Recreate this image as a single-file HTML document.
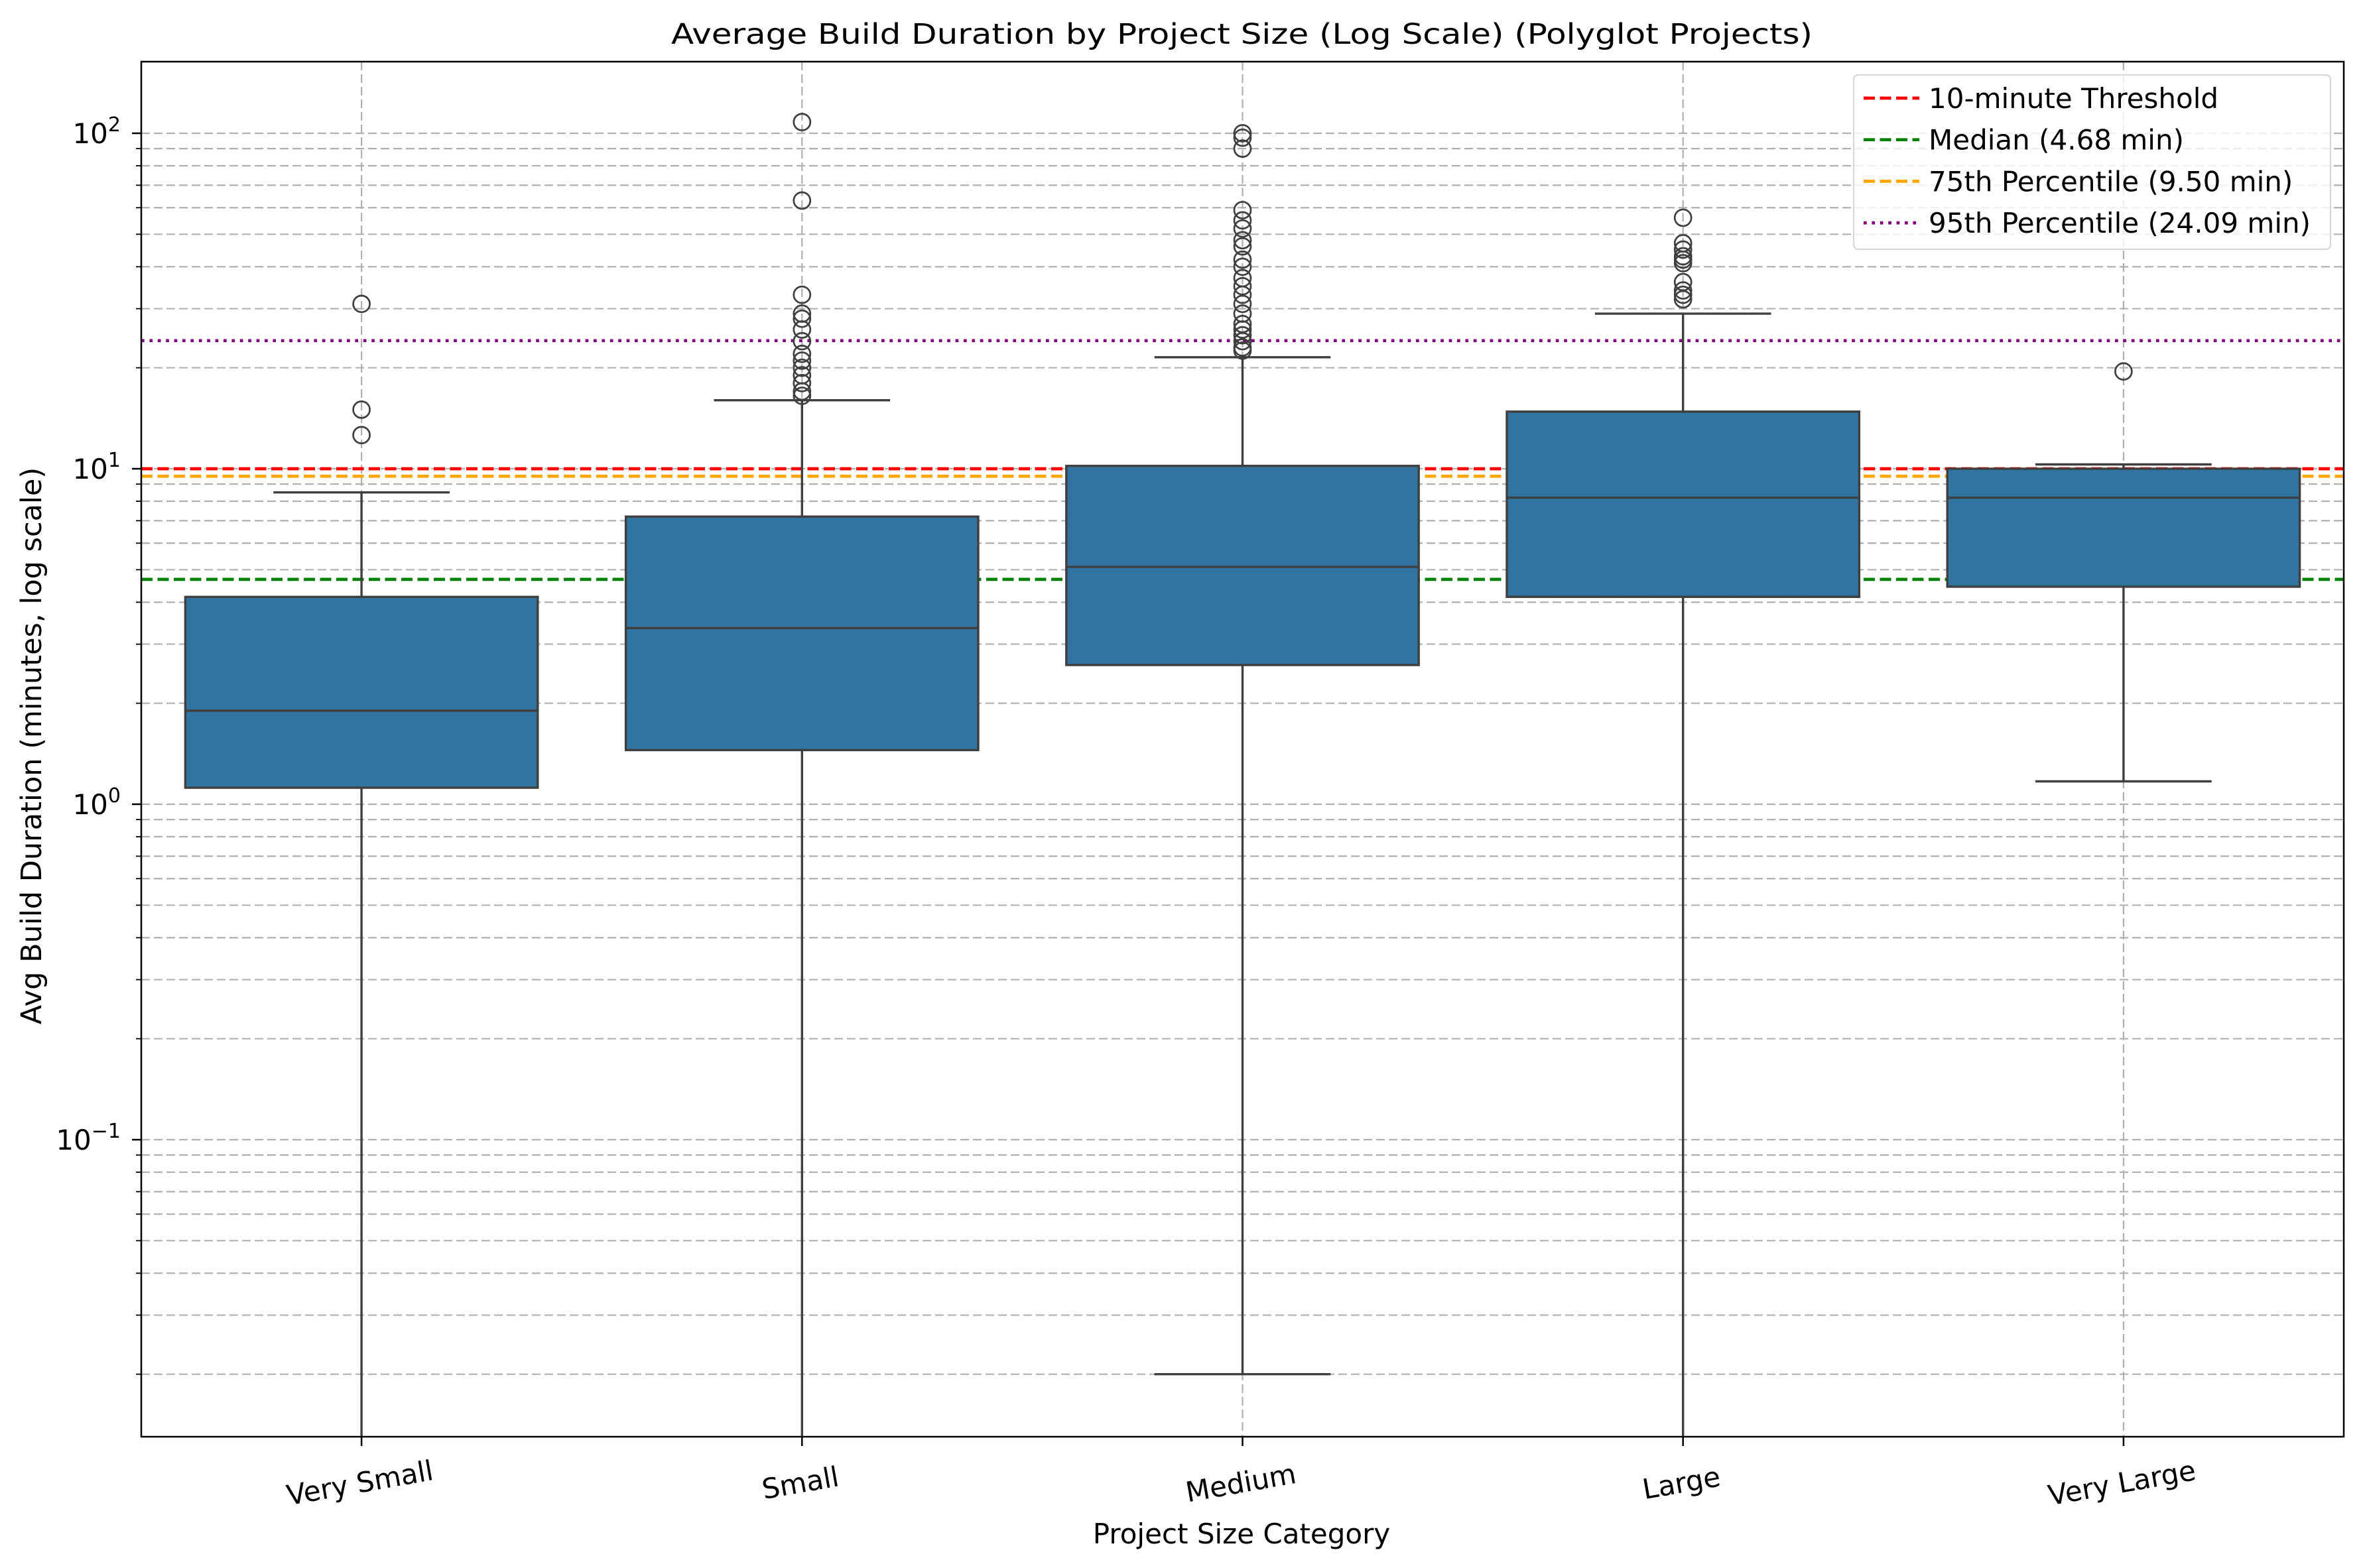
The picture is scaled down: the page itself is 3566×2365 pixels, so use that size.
<!DOCTYPE html>
<html><head><meta charset="utf-8"><style>
html,body{margin:0;padding:0;background:#fff}
svg{display:block;font-family:"DejaVu Sans","Liberation Sans",sans-serif}
</style></head><body>
<svg id="chart" width="3566" height="2365" viewBox="0 0 3566 2365" xmlns="http://www.w3.org/2000/svg">
<rect width="3566" height="2365" fill="#fff"/>
<g id="grid"></g>
<g id="refs"></g>
<g id="boxes"></g>
<rect x="213" y="93" width="3321" height="2074" fill="none" stroke="#000" stroke-width="2.5"/>
<g id="axes"></g>
<text x="1012" y="66" font-size="43" textLength="1721" lengthAdjust="spacingAndGlyphs">Average Build Duration by Project Size (Log Scale) (Polyglot Projects)</text>
<text x="1872" y="2328" text-anchor="middle" font-size="42">Project Size Category</text>
<text transform="translate(62,1125) rotate(-90)" text-anchor="middle" font-size="43">Avg Build Duration (minutes, log scale)</text>
<g id="legend"></g>
</svg>
<script>
const categories = ["Very Small","Small","Medium","Large","Very Large"];
const q1Values = [1.12, 1.45, 2.6, 4.15, 4.45];
const medianValues = [1.9, 3.35, 5.1, 8.2, 8.2];
const q3Values = [4.15, 7.2, 10.2, 14.8, 10.0];
const whiskerHigh = [8.5, 16, 21.5, 29, 10.3];
const whiskerLow = [0.005, 0.005, 0.02, 0.005, 1.17];
const outliers = [
  [31, 15, 12.6],
  [108, 63, 33, 29, 28, 26, 24, 22, 21, 20, 19, 18, 17, 16.5],
  [100, 97, 90, 59, 55, 52, 48, 46, 42, 40, 37, 35, 33, 31, 29, 27, 26, 25, 24, 23, 22.5],
  [56, 47, 45, 43, 42, 41, 36, 34, 33, 32],
  [19.5]
];
const refValues = [10, 4.68, 9.5, 24.09];
const refLabels = ["10-minute Threshold","Median (4.68 min)","75th Percentile (9.50 min)","95th Percentile (24.09 min)"];
const refColors = ["#ff0000","#008000","#ffa500","#800080"];
const yMajorTicks = [0.1, 1, 10, 100];
const yMajorLabels = ["−1","0","1","2"];

const NS = "http://www.w3.org/2000/svg";
const L = 213, R = 3534, T = 93, B = 2167;
function y(v){ return 707 - 506 * Math.log10(v / 10); }
const band = (R - L) / categories.length;
function x(i){ return L + band * (i + 0.5); }
function mk(parent, tag, attrs){ const e = document.createElementNS(NS, tag); for (const k in attrs) e.setAttribute(k, attrs[k]); parent.appendChild(e); return e; }
function clampY(v){ return Math.max(T, Math.min(B, y(v))); }

const grid = document.getElementById('grid');
const axes = document.getElementById('axes');
for (let d = -2; d <= 2; d++) {
  for (let m = 1; m <= 9; m++) {
    const v = m * Math.pow(10, d);
    const yy = y(v);
    if (yy < T || yy > B) continue;
    const g = mk(grid, 'line', {x1: L, x2: R, y1: yy, y2: yy, stroke: '#b0b0b0', 'stroke-width': 2.2, 'stroke-dasharray': '13,6'});
    
    
    const t = mk(axes, 'line', {x1: L, x2: L - (m === 1 ? 14 : 8), y1: yy, y2: yy, stroke: '#000', 'stroke-width': m === 1 ? 2.5 : 1.8});
    
    
  }
}
categories.forEach((c, i) => {
  const g = mk(grid, 'line', {x1: x(i), x2: x(i), y1: T, y2: B, stroke: '#b0b0b0', 'stroke-width': 2.2, 'stroke-dasharray': '13,6'});
  
  
  const t = mk(axes, 'line', {x1: x(i), x2: x(i), y1: B, y2: B + 14, stroke: '#000', 'stroke-width': 2.5});
  
  
  const lb = mk(axes, 'text', {x: 0, y: 0, 'font-size': 42, 'text-anchor': 'middle', transform: `translate(${x(i)},${B + 84}) rotate(-10)`});
  lb.textContent = c;
  
  
});
yMajorTicks.forEach((v, i) => {
  const lb = mk(axes, 'text', {x: 182, y: y(v) + 15, 'font-size': 42, 'text-anchor': 'end'});
  lb.innerHTML = '10<tspan dy="-18" font-size="30">' + yMajorLabels[i] + '</tspan>';
  
  
});
const refs = document.getElementById('refs');
const refDash = ['17,7.5', '17,7.5', '17,7.5', '4.7,7.7'];
refValues.forEach((v, i) => {
  const l = mk(refs, 'line', {x1: L, x2: R, y1: y(v), y2: y(v), stroke: refColors[i], 'stroke-width': 4.7, 'stroke-dasharray': refDash[i]});
  
  
});
const boxes = document.getElementById('boxes');
const hw = band * 0.4, cw = band * 0.2, col = '#3f3f3f';
categories.forEach((c, i) => {
  const cx = x(i);
  const g = mk(boxes, 'g', {});
  
  
  const w1 = mk(g, 'line', {x1: cx, x2: cx, y1: clampY(whiskerLow[i]), y2: y(q1Values[i]), stroke: col, 'stroke-width': 3.4});
  
  
  if (y(whiskerLow[i]) <= B) {
    const c1 = mk(g, 'line', {x1: cx - cw, x2: cx + cw, y1: y(whiskerLow[i]), y2: y(whiskerLow[i]), stroke: col, 'stroke-width': 3.4});
    
    
  }
  const w2 = mk(g, 'line', {x1: cx, x2: cx, y1: y(whiskerHigh[i]), y2: y(q3Values[i]), stroke: col, 'stroke-width': 3.4});
  
  
  const c2 = mk(g, 'line', {x1: cx - cw, x2: cx + cw, y1: y(whiskerHigh[i]), y2: y(whiskerHigh[i]), stroke: col, 'stroke-width': 3.4});
  
  
  const r = mk(g, 'rect', {x: cx - hw, y: y(q3Values[i]), width: hw * 2, height: y(q1Values[i]) - y(q3Values[i]), fill: '#3274a1', stroke: col, 'stroke-width': 3.4});
  
  
  const md = mk(g, 'line', {x1: cx - hw, x2: cx + hw, y1: y(medianValues[i]), y2: y(medianValues[i]), stroke: col, 'stroke-width': 3.4});
  
  
  outliers[i].forEach(v => {
    const o = mk(g, 'circle', {cx: cx, cy: y(v), r: 12.5, fill: 'none', stroke: col, 'stroke-width': 2.7});
    
    
  });
});
const leg = document.getElementById('legend');
const lb = mk(leg, 'rect', {x: 2795, y: 113, width: 719, height: 263, rx: 7, fill: '#fff', 'fill-opacity': 0.8, stroke: '#d6d6d6', 'stroke-width': 2.2});


refLabels.forEach((t, i) => {
  const yy = 148 + i * 62.7;
  const e = mk(leg, 'g', {});
  
  
  mk(e, 'line', {x1: 2810, x2: 2894, y1: yy, y2: yy, stroke: refColors[i], 'stroke-width': 4.7, 'stroke-dasharray': refDash[i]});
  const tx = mk(e, 'text', {x: 2908, y: yy + 15, 'font-size': 42});
  tx.textContent = t;
});
</script>
</body></html>
